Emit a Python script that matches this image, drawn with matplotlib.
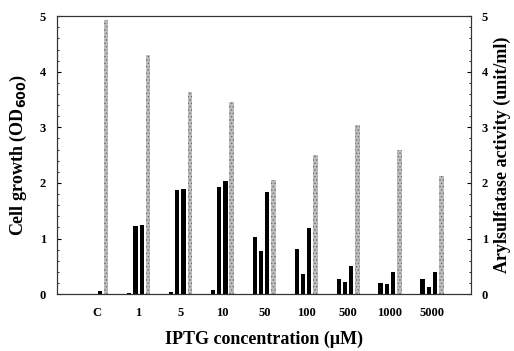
import matplotlib
matplotlib.use("Agg")
import matplotlib.pyplot as plt
from matplotlib.ticker import MultipleLocator
import numpy as np

# IPTG concentrations (uM), "C" = control
categories = ['C', '1', '5', '10', '50', '100', '500', '1000', '5000']

# black bars (three measurements per concentration)
activity_1 = [0.00, 0.02, 0.04, 0.07, 1.03, 0.82, 0.27, 0.20, 0.27]
activity_2 = [0.00, 1.23, 1.87, 1.93, 0.77, 0.36, 0.21, 0.18, 0.12]
activity_3 = [0.05, 1.25, 1.90, 2.03, 1.84, 1.19, 0.51, 0.40, 0.40]
# stippled gray bars
cell_growth = [4.93, 4.30, 3.64, 3.45, 2.05, 2.50, 3.05, 2.59, 2.12]

plt.rcParams['font.family'] = ['Liberation Serif', 'DejaVu Serif']
plt.rcParams['font.weight'] = 'bold'
plt.rcParams['hatch.linewidth'] = 0.6

fig = plt.figure(figsize=(5.14, 3.51), dpi=100)
ax = fig.add_axes([0.111, 0.162, 0.805, 0.792])

x = np.arange(len(categories))
w = 0.1
ax.bar(x - 0.225, activity_1, width=w, color='black', linewidth=0)
ax.bar(x - 0.075, activity_2, width=w, color='black', linewidth=0)
ax.bar(x + 0.075, activity_3, width=w, color='black', linewidth=0)
ax.bar(x + 0.225, cell_growth, width=0.11, facecolor='#bdbdbd',
       edgecolor='#6e6e6e', hatch='.....', linewidth=0)

ax.set_xlim(-0.945, 8.93)
ax.set_ylim(0, 5)
ax.set_xticks(x)
ax.set_xticklabels(categories, fontsize=9, fontweight='bold')
ax.tick_params(axis='x', length=0, pad=9)

ax.yaxis.set_major_locator(MultipleLocator(1))
ax.yaxis.set_minor_locator(MultipleLocator(0.2))
ax.tick_params(axis='y', which='major', direction='in', length=3, width=0.8,
               labelsize=9, pad=8)
ax.tick_params(axis='y', which='minor', direction='in', length=1.5, width=0.6)
for lab in ax.get_yticklabels():
    lab.set_fontweight('bold')

ax2 = ax.twinx()
ax2.set_ylim(0, 5)
ax2.yaxis.set_major_locator(MultipleLocator(1))
ax2.yaxis.set_minor_locator(MultipleLocator(0.2))
ax2.tick_params(axis='y', which='major', direction='in', length=3, width=0.8,
                labelsize=9, pad=8)
ax2.tick_params(axis='y', which='minor', direction='in', length=1.5, width=0.6)
for lab in ax2.get_yticklabels():
    lab.set_fontweight('bold')

for a in (ax, ax2):
    for s in a.spines.values():
        s.set_linewidth(0.8)
        s.set_color('#333333')

ax.set_ylabel('Cell growth (OD$_{\\mathbf{600}}$)', fontsize=13, fontweight='bold',
              labelpad=8)
ax2.set_ylabel('Arylsulfatase activity (unit/ml)', fontsize=13, fontweight='bold',
               labelpad=4)
ax.set_xlabel('IPTG concentration (\u03bcM)', fontsize=13, fontweight='bold',
              labelpad=9)

fig.savefig('out.png', dpi=100)
